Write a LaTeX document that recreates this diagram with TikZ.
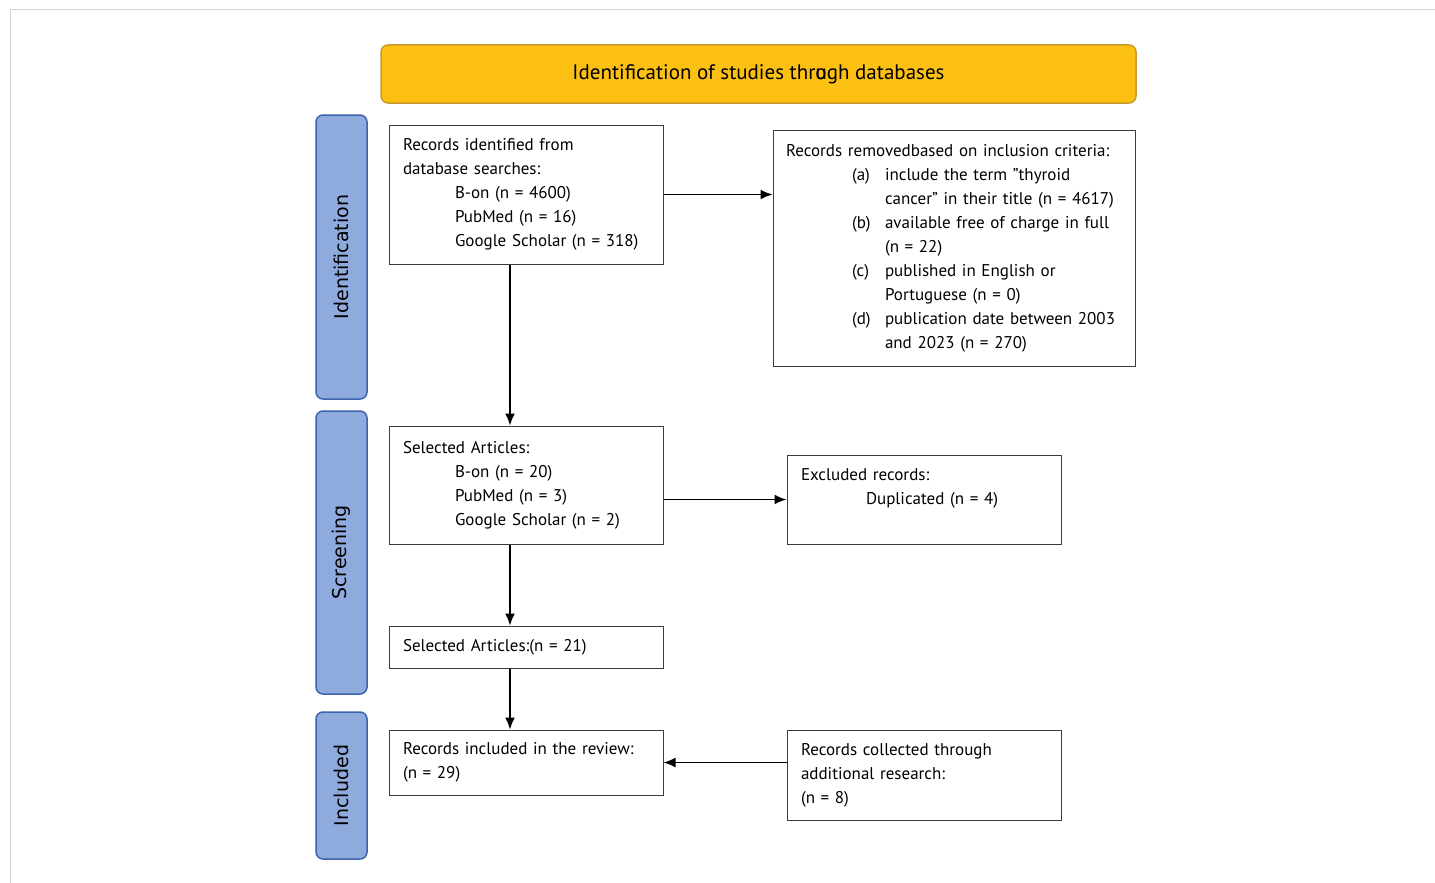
\documentclass[tikz,border=0pt]{standalone}
\usepackage{fontspec}
\setmainfont{PT Sans}
\newfontfamily\phasefont{DejaVu Sans}
\usepackage{xcolor}
\usepackage{tikz}
\usetikzlibrary{positioning, arrows.meta}

\definecolor{amber}{HTML}{FCC012}
\definecolor{amberline}{HTML}{C99A2E}
\definecolor{phasefill}{HTML}{8FAADC}
\definecolor{phaseline}{HTML}{3B64AD}
\definecolor{frameline}{HTML}{D4D4D4}
\definecolor{boxline}{HTML}{3C3C3C}

\tikzset{
  box/.style={draw=boxline, line width=1pt, fill=white, align=left, inner xsep=14pt, inner ysep=0pt,
    font=\fontsize{17}{24}\selectfont},
  phase/.style={draw=phaseline, line width=1.5pt, fill=phasefill, rounded corners=7pt, rotate=90,
    minimum height=51pt, inner sep=0pt, font=\phasefont\fontsize{19}{23}\selectfont},
  banner/.style={draw=amberline, line width=1.5pt, fill=amber, rounded corners=7pt,
    font=\fontsize{21}{25}\selectfont},
  flow/.style={draw, line width=1.7pt},
  >={Latex[length=12pt,width=10pt]}
}

\begin{document}
\begin{tikzpicture}[x=1pt, y=-1pt]
        \useasboundingbox (0,0) rectangle (1435,883);
        \draw[frameline, line width=1pt] (10,883) -- (10,10) -- (1435,10);

        \node[banner, minimum width=755pt, minimum height=58pt] (title) at (758.5,74) {Identification of studies thr\rlap{o}ugh databases};

        \node[phase, minimum width=284pt] (ident) at (341.5,257) {Identification};
        \node[phase, minimum width=283pt] (screen) at (341.5,552.5) {Screening};
        \node[phase, minimum width=147pt] (incl) at (341.5,785.5) {Included};

        \node[box, text width=246pt, minimum height=139pt] (rec) at (526,194.5) {Records identified from\\database searches:\\\hspace*{52pt}B-on (n = 4600)\\\hspace*{52pt}PubMed (n = 16)\\\hspace*{52pt}Google Scholar (n = 318)};
        \node[box, text width=336pt, inner xsep=13pt, minimum height=236pt] (rem) at (954,248) {Records removedbased on inclusion criteria:\\
          \hspace*{66pt}\makebox[33pt][l]{(a)}include the term \symbol{34}thyroid\\
          \hspace*{99pt}cancer\symbol{34} in their title (n = 4617)\\
          \hspace*{66pt}\makebox[33pt][l]{(b)}available free of charge in full\\
          \hspace*{99pt}(n = 22)\\
          \hspace*{66pt}\makebox[33pt][l]{(c)}published in English or\\
          \hspace*{99pt}Portuguese (n = 0)\\
          \hspace*{66pt}\makebox[33pt][l]{(d)}publication date between 2003\\
          \hspace*{99pt}and 2023 (n = 270)};

        \node[box, text width=246pt, minimum height=118pt] (sel) at (526,485) {Selected Articles:\\\hspace*{52pt}B-on (n = 20)\\\hspace*{52pt}PubMed (n = 3)\\\hspace*{52pt}Google Scholar (n = 2)};
        \node[box, text width=246pt, minimum height=89pt, text depth=50pt] (exc) at (924,499.5) {Excluded records:\\\hspace*{65pt}Duplicated (n = 4)};

        \node[box, text width=246pt, minimum height=42pt] (sel2) at (526,647) {Selected Articles:(n = 21)};

        \node[box, text width=246pt, minimum height=65pt] (inc) at (526,762.5) {Records included in the review:\\(n = 29)};
        \node[box, text width=246pt, minimum height=90pt] (add) at (924,775) {Records collected through\\additional research:\\(n = 8)};

        \path[->]
        (rec.east) edge[flow] (rec.east -| rem.west)
        ([xshift=-16pt]rec.south) edge[flow] ([xshift=-16pt]sel.north)
        (exc.west -| sel.east) edge[flow] (exc.west)
        ([xshift=-16pt]sel.south) edge[flow] ([xshift=-16pt]sel2.north)
        ([xshift=-16pt]sel2.south) edge[flow] ([xshift=-16pt]inc.north)
        (add.west |- inc.east) edge[flow] (inc.east);

\end{tikzpicture}
\end{document}
